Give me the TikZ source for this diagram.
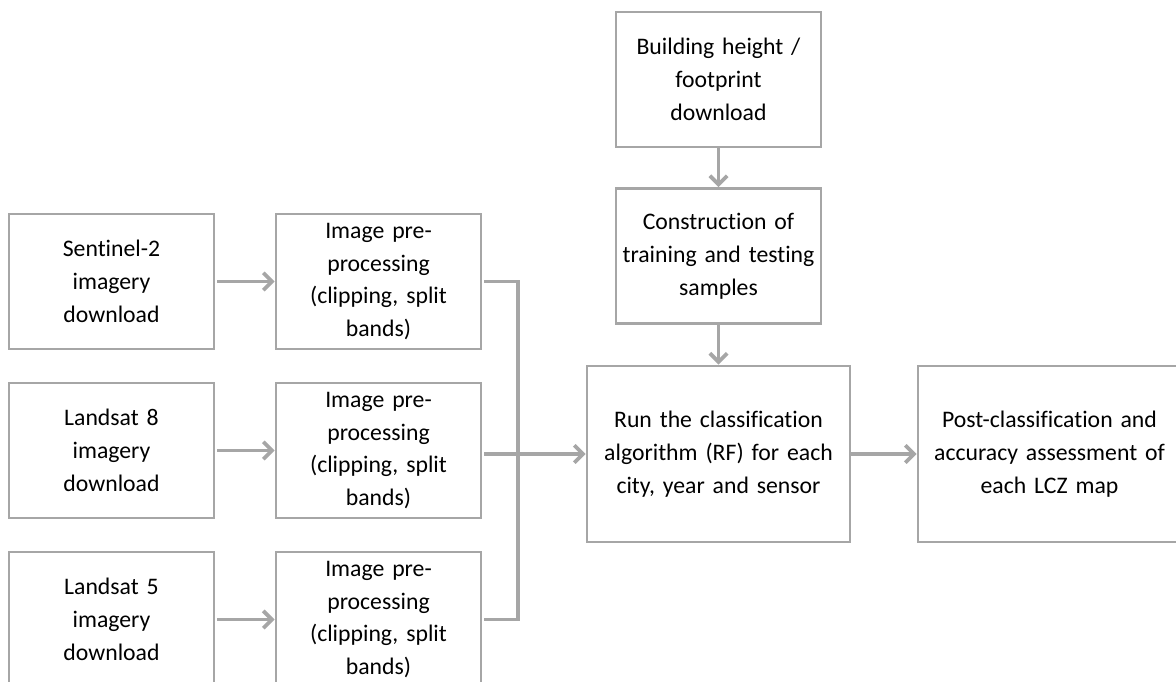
\documentclass[tikz,border=0pt]{standalone}
\usepackage{fontspec}
\setmainfont{Carlito}[WordSpace=0.75,Ligatures=CommonOff]
\usetikzlibrary{arrows.meta}
\definecolor{boxgray}{RGB}{166,166,166}

\begin{document}
\begin{tikzpicture}[x=0.75pt,y=-0.75pt,
  box/.style={draw=boxgray,line width=2.2pt,minimum width=153.75pt,minimum height=101.25pt,
    inner sep=0pt,text width=150pt,align=center,font=\fontsize{17.8}{24.6}\selectfont},
  bigbox/.style={box,minimum width=197.25pt,minimum height=132pt,text width=192pt},
  link/.style={draw=boxgray,line width=2.8pt,shorten <=1.5pt},
  arr/.style={link,-{Straight Barb[length=6.5pt,width=13pt]}}]
% page is the reference frame; the bottom row and the last box run off it
\useasboundingbox (0,0) rectangle (1176,681);
\fill[white] (0,0) rectangle (1176,681);
\clip (0,0) rectangle (1176,681);
% sources
\node[box] (sen) at (111.5,281.5) {Sentinel-2\\imagery\\download};
\node[box] (ls8) at (111.5,450.5) {Landsat 8\\imagery\\download};
\node[box] (ls5) at (111.5,619.5) {Landsat 5\\imagery\\download};
% pre-processing
\node[box] (presen) at (378.5,281.5) {Image pre-\\processing\\(clipping, split\\bands)};
\node[box] (prels8) at (378.5,450.5) {Image pre-\\processing\\(clipping, split\\bands)};
\node[box] (prels5) at (378.5,619.5) {Image pre-\\processing\\(clipping, split\\bands)};
% samples and classification
\node[box] (bldg) at (718.5,79.5) {Building height /\\footprint\\download};
\node[box] (samples) at (718.5,256) {Construction of\\training and testing\\samples};
\node[bigbox] (rf) at (718.5,454) {Run the classification\\algorithm (RF) for each\\city, year and sensor};
\node[bigbox] (post) at (1049.5,454) {Post-classification and\\accuracy assessment of\\each LCZ map};
\coordinate (bus) at (518,454);
\draw[arr] (sen) -- (presen);
\draw[arr] (ls8) -- (prels8);
\draw[arr] (ls5) -- (prels5);
\draw[link] (presen.east) -| (bus);
\draw[link] (prels5.east) -| (bus);
\draw[arr] (prels8.east |- rf.west) -- (rf.west);
\draw[arr,shorten <=0pt] (bldg) -- (samples);
\draw[arr,shorten <=0pt] (samples) -- (rf);
\draw[arr,shorten <=0pt] (rf) -- (post);
\end{tikzpicture}
\end{document}
